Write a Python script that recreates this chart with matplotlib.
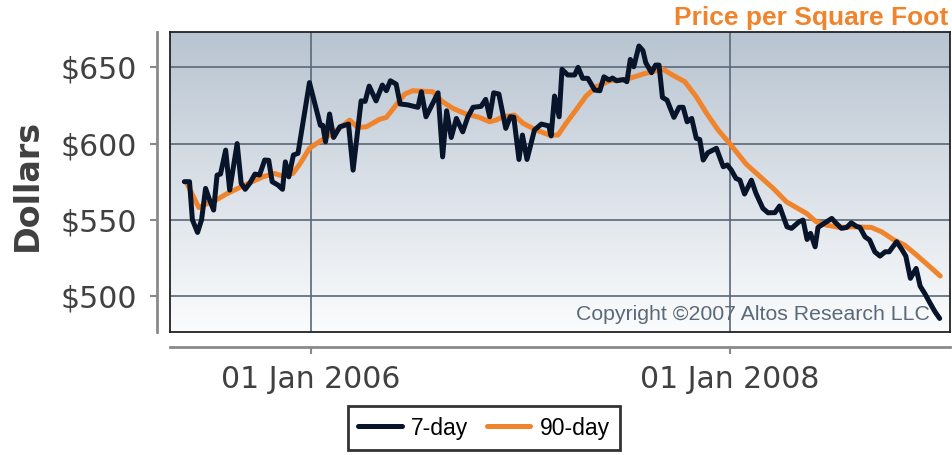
import matplotlib.pyplot as plt
import numpy as np
import pandas as pd
from matplotlib.colors import LinearSegmentedColormap

# 7-day series
week_dates = ['2005-05-26', '2005-06-04', '2005-06-09', '2005-06-18', '2005-06-25', '2005-07-02',
              '2005-07-09', '2005-07-16', '2005-07-22', '2005-07-28', '2005-08-06', '2005-08-13',
              '2005-08-26', '2005-09-02', '2005-09-09', '2005-09-17', '2005-09-26', '2005-10-04',
              '2005-10-13', '2005-10-20', '2005-10-26', '2005-11-05', '2005-11-13', '2005-11-18',
              '2005-11-24', '2005-12-02', '2005-12-10', '2005-12-30', '2006-01-18', '2006-01-22',
              '2006-01-27', '2006-02-03', '2006-02-10', '2006-02-21', '2006-03-08', '2006-03-16',
              '2006-03-30', '2006-04-06', '2006-04-13', '2006-04-25', '2006-05-06', '2006-05-13',
              '2006-05-20', '2006-05-30', '2006-06-06', '2006-06-19', '2006-07-07', '2006-07-13',
              '2006-07-21', '2006-08-11', '2006-08-19', '2006-08-26', '2006-09-03', '2006-09-12',
              '2006-09-23', '2006-10-02', '2006-10-11', '2006-10-25', '2006-11-02', '2006-11-09',
              '2006-11-16', '2006-11-25', '2006-12-07', '2006-12-15', '2006-12-21', '2006-12-30',
              '2007-01-05', '2007-01-13', '2007-01-26', '2007-02-07', '2007-02-20', '2007-02-24',
              '2007-03-02', '2007-03-10', '2007-03-15', '2007-03-25', '2007-04-06', '2007-04-12',
              '2007-04-20', '2007-04-29', '2007-05-11', '2007-05-20', '2007-05-27', '2007-06-05',
              '2007-06-11', '2007-06-18', '2007-06-30', '2007-07-06', '2007-07-12', '2007-07-18',
              '2007-07-27', '2007-08-03', '2007-08-08', '2007-08-18', '2007-08-25', '2007-08-31',
              '2007-09-06', '2007-09-14', '2007-09-26', '2007-10-05', '2007-10-12', '2007-10-19',
              '2007-10-27', '2007-11-04', '2007-11-10', '2007-11-16', '2007-11-24', '2007-12-09',
              '2007-12-21', '2007-12-28', '2008-01-04', '2008-01-12', '2008-01-19', '2008-01-27',
              '2008-02-08', '2008-02-16', '2008-02-28', '2008-03-08', '2008-03-20', '2008-03-28',
              '2008-04-10', '2008-04-18', '2008-05-01', '2008-05-08', '2008-05-15', '2008-05-21',
              '2008-05-29', '2008-06-03', '2008-06-15', '2008-06-27', '2008-07-05', '2008-07-14',
              '2008-07-23', '2008-07-31', '2008-08-09', '2008-08-15', '2008-08-24', '2008-09-01',
              '2008-09-10', '2008-09-19', '2008-09-28', '2008-10-05', '2008-10-18', '2008-10-27',
              '2008-11-03', '2008-11-11', '2008-11-21', '2008-11-28', '2008-12-06', '2008-12-14',
              '2008-12-24', '2009-01-01']
week_price = [575, 575, 550, 541.7, 550, 570.6, 563, 556.4, 579.3, 580, 595.7, 569.5,
              600, 574, 570, 574, 580, 579.4, 589.2, 589, 575, 572.8, 570, 588,
              578.2, 592.5, 593.6, 640, 612, 612, 601.2, 619.4, 604, 611, 612.8, 582.6,
              628, 627.7, 637.7, 628, 638.4, 634.7, 641.2, 639, 626, 625.4, 623.8, 634,
              617.6, 633.3, 591.3, 621.5, 604, 616.5, 607.7, 617.6, 623.8, 624.4, 629, 617.6,
              633.3, 632.5, 610, 617.6, 617.3, 589.6, 605.6, 589.6, 608.9, 612.8, 611.6, 605,
              631.2, 617.6, 648.7, 645, 645, 650, 642.8, 642.8, 635.1, 634.7, 643.8, 641.7,
              643, 641.2, 642, 640.6, 655.2, 650.4, 664, 661, 653, 646.5, 651.5, 651.5,
              630.3, 628.5, 617.2, 623.8, 623.8, 614.3, 616.5, 603.4, 602.7, 589.2, 594, 596.9,
              584.8, 586, 582.6, 577.2, 576, 566.9, 576, 567.3, 557.5, 554.6, 554.7, 559,
              545.4, 544.4, 548.7, 549.8, 537.1, 541.1, 532.3, 545, 548, 550.9, 547.6, 544.4,
              545, 548, 545.7, 545, 538.8, 536.7, 529, 526.2, 529, 529, 535.6, 530.6,
              526.2, 511.6, 518.1, 506.5, 501.7, 496.2, 489.6, 485.3]

# 90-day series
qtr_dates = ['2005-05-29', '2005-06-16', '2005-06-20', '2005-07-06', '2005-07-20', '2005-08-07',
             '2005-08-27', '2005-09-17', '2005-10-10', '2005-10-30', '2005-11-13', '2005-12-01',
             '2005-12-13', '2005-12-30', '2006-01-16', '2006-02-03', '2006-02-20', '2006-03-10',
             '2006-03-24', '2006-04-08', '2006-05-01', '2006-05-13', '2006-05-30', '2006-06-14',
             '2006-06-28', '2006-08-02', '2006-08-19', '2006-09-06', '2006-09-29', '2006-10-22',
             '2006-11-09', '2006-11-20', '2006-12-02', '2006-12-22', '2007-01-06', '2007-01-29',
             '2007-02-21', '2007-03-08', '2007-03-22', '2007-04-09', '2007-04-26', '2007-05-14',
             '2007-06-06', '2007-07-05', '2007-08-03', '2007-08-18', '2007-09-07', '2007-09-24',
             '2007-10-15', '2007-11-04', '2007-11-22', '2007-12-12', '2008-01-01', '2008-01-30',
             '2008-02-22', '2008-03-17', '2008-04-09', '2008-05-02', '2008-05-14', '2008-05-31',
             '2008-06-18', '2008-07-11', '2008-08-03', '2008-09-04', '2008-09-22', '2008-10-12',
             '2008-11-01', '2008-11-22', '2008-12-15', '2009-01-02']
qtr_price = [575, 561.2, 558.1, 560.8, 562.9, 566.9, 570.6, 574.3, 578.2, 580.4, 578.7, 580.4,
             586.5, 596.9, 601.2, 605.6, 610, 615.4, 610.6, 611, 615.9, 617.2, 625.3, 632.5,
             634.7, 634, 627.4, 623.1, 619.4, 617.2, 614.3, 615.4, 617.6, 618.7, 613.3, 608.9,
             605.6, 605.6, 613.3, 622.4, 631.2, 637.3, 641.2, 642.1, 645.6, 647.1, 648.7, 644.9,
             640.6, 630.7, 619.8, 608.9, 600.1, 586.5, 578.7, 570.6, 561.8, 556.8, 554.2, 548.7,
             546.5, 545, 545.4, 545, 542.1, 537.1, 533.4, 526.8, 519.2, 513.1]

ytick_vals = [500, 550, 600, 650]
xtick_dates = ['2006-01-01', '2008-01-01']
xtick_labels = ['01 Jan 2006', '01 Jan 2008']

week_dates = pd.to_datetime(week_dates)
qtr_dates = pd.to_datetime(qtr_dates)
xticks = pd.to_datetime(xtick_dates)

navy = '#08142a'
orange = '#f0842c'
label_col = '#404040'
spine_col = '#8a8a8a'

fig = plt.figure(figsize=(9.53, 4.55), dpi=100)
rect = [170/953, 1-332/455, 780/953, 300/455]
ax = fig.add_axes(rect)
xlim = (pd.Timestamp('2005-05-01'), pd.Timestamp('2009-01-19'))
ylim = (476.4, 673.2)

# gradient background
grad = np.linspace(0, 1, 256).reshape(-1, 1)
cmap = LinearSegmentedColormap.from_list('bg', ['#fbfcfd', '#b8c4d1'])
ax.imshow(grad, aspect='auto', cmap=cmap, origin='lower', extent=(0, 1, 0, 1),
          transform=ax.transAxes, zorder=0)

for v in ytick_vals:
    ax.axhline(v, color='#5b6878', lw=1.2, zorder=1)
for d in xticks:
    ax.axvline(d, color='#5b6878', lw=1.2, zorder=1)

ax.plot(qtr_dates, qtr_price, color=orange, lw=3.6, zorder=3, solid_joinstyle='round',
        solid_capstyle='round', label='90-day')
ax.plot(week_dates, week_price, color=navy, lw=3.6, zorder=4, solid_joinstyle='round',
        solid_capstyle='round', label='7-day')
ax.set_xlim(xlim)
ax.set_ylim(ylim)
ax.tick_params(left=False, bottom=False, labelleft=False, labelbottom=False)
for s in ax.spines.values():
    s.set_color('#222222')
    s.set_linewidth(1.3)

ax.text(0.9745, 0.025, 'Copyright \u00a92007 Altos Research LLC', transform=ax.transAxes,
        ha='right', va='bottom', color='#5a6a7a', fontsize=15.3, family='Liberation Sans', zorder=5)

# separate offset axes carrying the ticks
ax2 = fig.add_axes(rect)
ax2.patch.set_visible(False)
ax2.set_xlim(xlim)
ax2.set_ylim(ylim)
ax2.spines['top'].set_visible(False)
ax2.spines['right'].set_visible(False)
ax2.spines['left'].set_position(('outward', 9.5))
ax2.spines['bottom'].set_position(('outward', 10.8))
for side in ['left', 'bottom']:
    ax2.spines[side].set_color(spine_col)
    ax2.spines[side].set_linewidth(2)
ax2.set_yticks(ytick_vals)
ax2.set_yticklabels(['$%d' % v for v in ytick_vals])
ax2.set_xticks(xticks)
ax2.set_xticklabels(xtick_labels)
ax2.tick_params(axis='y', length=5, width=1.5, color=spine_col, pad=9, labelsize=21.5,
                labelcolor=label_col)
ax2.tick_params(axis='x', length=5, width=1.5, color=spine_col, pad=8, labelsize=21.5,
                labelcolor=label_col)

fig.text(27/953, 1-185/455, 'Dollars', rotation=90, ha='center', va='center',
         fontsize=24, fontweight='bold', color=label_col)
fig.text(948/953, 1-18/455, 'Price per Square Foot', ha='right', va='center',
         fontsize=19, fontweight='bold', color=orange, family='Liberation Sans')

h, l = ax.get_legend_handles_labels()
leg = fig.legend(h[::-1], l[::-1], loc='center', bbox_to_anchor=(484/953, 1-428/455), ncol=2,
                 frameon=True, fancybox=False, edgecolor='black', handlelength=1.9,
                 handletextpad=0.4, columnspacing=0.8, prop={'family': 'Liberation Sans', 'size': 16.5},
                 borderpad=0.45)
leg.get_frame().set_linewidth(2)

fig.savefig('out.png', dpi=100)
